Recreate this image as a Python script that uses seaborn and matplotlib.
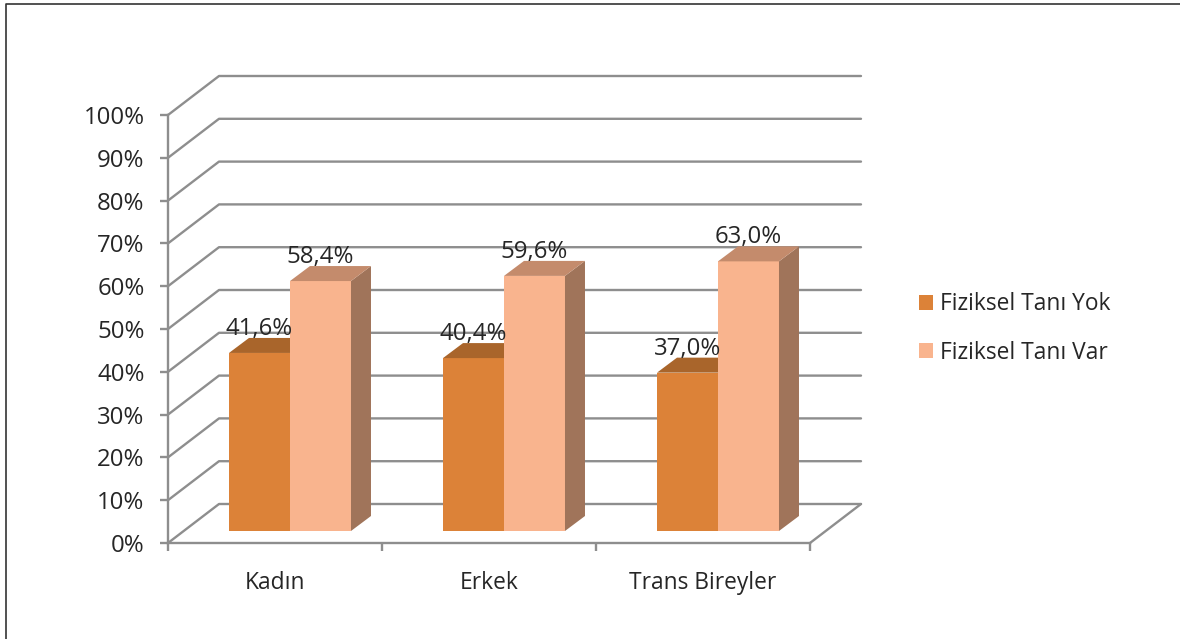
import pandas as pd
import seaborn as sns
import matplotlib.pyplot as plt
from matplotlib.lines import Line2D
from matplotlib.patches import Patch, Polygon

groups = ['Kadın', 'Erkek', 'Trans Bireyler']
series_names = ['Fiziksel Tanı Yok', 'Fiziksel Tanı Var']
tani_yok = [41.6, 40.4, 37.0]
tani_var = [58.4, 59.6, 63.0]
y_ticks = [0, 10, 20, 30, 40, 50, 60, 70, 80, 90, 100]

W, H = 1180, 639
FRONT = '#DC8238', '#F9B48E'
TOP = '#A9652B', '#C48B6C'
SIDE = '#9A5A26', '#A0745A'
GRID = '#8E8E8E'
TEXT = '#262626'

sns.set_theme(style='white')
plt.rcParams['font.family'] = ['Open Sans', 'DejaVu Sans']

df = pd.DataFrame({
    'grup': groups * 2,
    'tani': [series_names[0]] * 3 + [series_names[1]] * 3,
    'oran': tani_yok + tani_var,
})


def box(left, top, right, bottom):
    return [left / W, 1 - bottom / H, (right - left) / W, (bottom - top) / H]


fig = plt.figure(figsize=(W / 100, H / 100), dpi=100, facecolor='white')

# front plane: axis lines, ticks and labels
ax_front = fig.add_axes(box(168, 115, 810, 543))
ax_front.set_xlim(0, 3)
ax_front.set_ylim(0, 100)
ax_front.patch.set_visible(False)
for s in ['top', 'right']:
    ax_front.spines[s].set_visible(False)
for s in ['left', 'bottom']:
    ax_front.spines[s].set_color(GRID)
    ax_front.spines[s].set_linewidth(1.7)

ax_front.set_yticks(y_ticks)
ax_front.set_yticklabels([f'{v}%' for v in y_ticks], fontsize=17.3, color=TEXT)
ax_front.tick_params(axis='y', left=True, length=5.8, width=1.7, color=GRID, pad=11)
ax_front.set_xticks(range(4))
ax_front.set_xticklabels([])
ax_front.tick_params(axis='x', which='major', bottom=True, length=5.8, width=1.7, color=GRID)
ax_front.set_xticks([0.5, 1.5, 2.5], minor=True)
ax_front.set_xticklabels(groups, minor=True, fontsize=16.4, color=TEXT)
ax_front.tick_params(axis='x', which='minor', bottom=False, length=0, pad=20)

# walls and floor, pushed back from the front plane
dx = 51 * 3 / 642
dy = 39 * 100 / 428
for v in y_ticks:
    ax_front.plot([0, dx, 3 + dx], [v, v + dy, v + dy], color=GRID, lw=1.7,
                  clip_on=False, zorder=1)
ax_front.plot([3, 3 + dx], [0, dy], color=GRID, lw=1.7, clip_on=False, zorder=1)

# bars sit a little behind the front plane
ax = fig.add_axes(box(183, 103, 825, 531))
ax.patch.set_visible(False)
sns.barplot(data=df, x='grup', y='oran', hue='tani', order=groups, hue_order=series_names,
            palette=list(FRONT), saturation=1, width=0.57, gap=0, dodge=True,
            legend=False, ax=ax)
ax.set_xlim(-0.5, 2.5)
ax.set_ylim(0, 100)
ax.axis('off')

bar_dx = 20 * 3 / 642
bar_dy = 15 * 100 / 428
for i, cont in enumerate(ax.containers):
    for bar in cont:
        x0 = bar.get_x()
        x1 = x0 + bar.get_width()
        h = bar.get_height()
        bar.set_linewidth(0)
        bar.set_zorder(2 + i)
        ax.add_patch(Polygon([(x1, 0), (x1 + bar_dx, bar_dy), (x1 + bar_dx, h + bar_dy), (x1, h)],
                             closed=True, fc=SIDE[i], ec='none', zorder=2 + i, clip_on=False))
        ax.add_patch(Polygon([(x0, h), (x0 + bar_dx, h + bar_dy), (x1 + bar_dx, h + bar_dy), (x1, h)],
                             closed=True, fc=TOP[i], ec='none', zorder=2 + i, clip_on=False))
        ax.annotate(f'{h:.1f}%'.replace('.', ','), (x0 + bar.get_width() / 2, h),
                    xytext=(0, 17.3), textcoords='offset points', ha='center', va='center',
                    fontsize=17.3, color=TEXT, zorder=6, annotation_clip=False)

handles = [Patch(fc=FRONT[i], ec='none', label=series_names[i]) for i in range(2)]
fig.legend(handles=handles, loc='center left', bbox_to_anchor=(898 / W, 1 - 328.5 / H),
           frameon=False, fontsize=16.4, handlelength=0.62, handleheight=0.62,
           handletextpad=0.32, labelspacing=1.07, labelcolor=TEXT)

# outer frame, left and top only
fig.add_artist(Line2D([6 / W, 6 / W, 1], [0, 1 - 4 / H, 1 - 4 / H], color='#333333', lw=1.2))

fig.savefig('out.png', dpi=100)
